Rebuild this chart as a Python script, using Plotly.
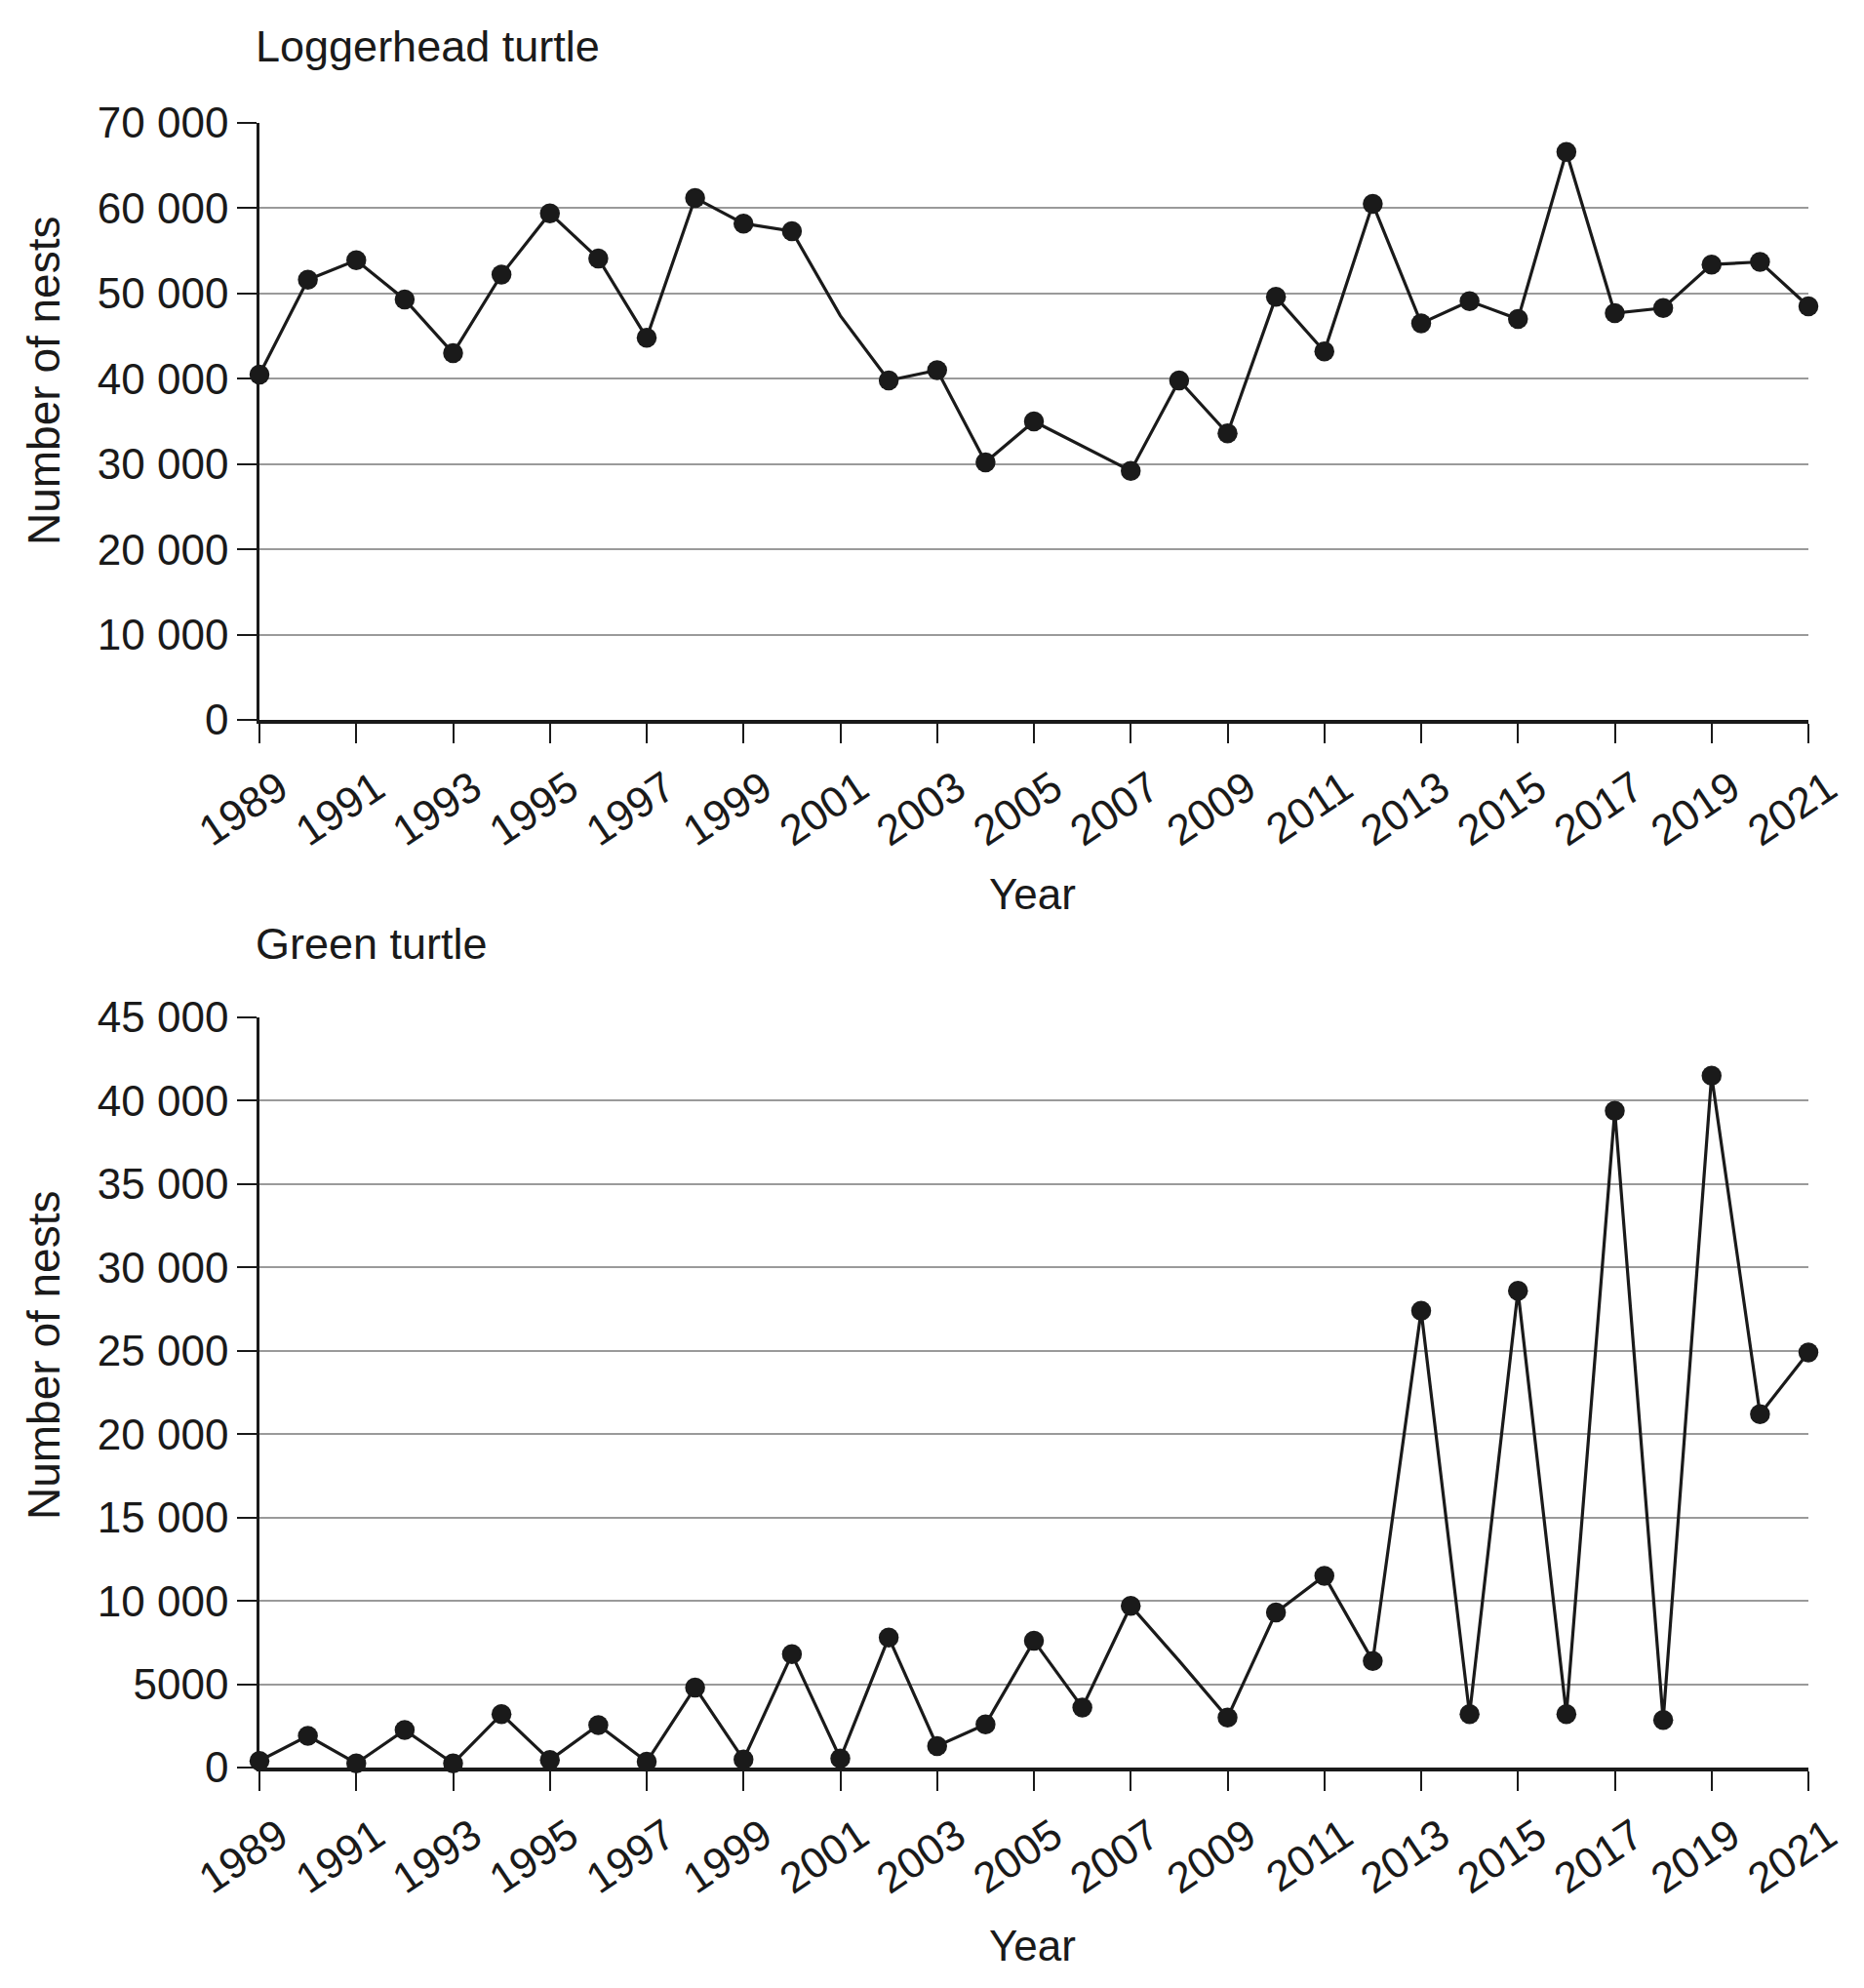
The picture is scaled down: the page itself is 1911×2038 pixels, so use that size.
import plotly.graph_objects as go

years = list(range(1989, 2022))

loggerhead_nests = [40500, 51600, 53900, 49300, 43000, 52200, 59400, 54100, 44800, 61200,
                    58200, 57300, 47400, 39800, 41000, 30200, 35000, 32100, 29200, 39800,
                    33600, 49600, 43200, 60500, 46500, 49100, 47000, 66600, 47700, 48300,
                    53400, 53700, 48500]
# years drawn without a marker in the source
loggerhead_no_marker = [2001, 2006]

green_nests = [400, 1900, 250, 2250, 250, 3200, 450, 2550, 350, 4800,
               480, 6800, 540, 7800, 1290, 2590, 7600, 3600, 9700, 6400,
               3000, 9300, 11500, 6400, 27400, 3200, 28600, 3200, 39400, 2850,
               41500, 21200, 24900]
green_no_marker = [2008]

x_tickvals = list(range(1989, 2022, 2))
x_ticktext = [str(v) for v in x_tickvals]

top_tickvals = [0, 10000, 20000, 30000, 40000, 50000, 60000, 70000]
top_ticktext = ["0", "10 000", "20 000", "30 000", "40 000", "50 000", "60 000", "70 000"]
bot_tickvals = [0, 5000, 10000, 15000, 20000, 25000, 30000, 35000, 40000, 45000]
bot_ticktext = ["0", "5000", "10 000", "15 000", "20 000", "25 000", "30 000", "35 000", "40 000", "45 000"]

titles = ["Loggerhead turtle", "Green turtle"]
x_title = "Year"
y_title = "Number of nests"

W, H = 1911, 2038
L, R, T, B = 266, 57, 126, 226
PW, PH = W - L - R, H - T - B

def px_x(p):
    return (p - L) / PW

def px_y(p):
    return (H - B - p) / PH

FONT = "Liberation Sans, Arial, Helvetica, sans-serif"
INK = "#1a1a1a"
GRID = "#9a9a9a"

fig = go.Figure()

def add_series(xs, ys, skip, xa, ya):
    fig.add_trace(go.Scatter(x=xs, y=ys, mode="lines", line=dict(color=INK, width=3.2),
                             xaxis=xa, yaxis=ya, showlegend=False, cliponaxis=False,
                             hoverinfo="skip"))
    mx = [x for x in xs if x not in skip]
    my = [y for x, y in zip(xs, ys) if x not in skip]
    fig.add_trace(go.Scatter(x=mx, y=my, mode="markers",
                             marker=dict(color=INK, size=20.5, symbol="circle", line=dict(width=0)),
                             xaxis=xa, yaxis=ya, showlegend=False, cliponaxis=False))

add_series(years, loggerhead_nests, loggerhead_no_marker, "x", "y")
add_series(years, green_nests, green_no_marker, "x2", "y2")

top_dom = [px_y(738), 1.0]
bot_dom = [0.0, px_y(1043)]

xcommon = dict(range=[1989, 2021], tickmode="array", tickvals=x_tickvals, ticktext=x_ticktext,
               tickangle=-34, ticks="outside", ticklen=20, tickwidth=2, tickcolor=INK,
               showline=True, linecolor=INK, linewidth=4, showgrid=False, zeroline=False,
               tickfont=dict(family=FONT, size=44, color=INK), domain=[0, 1],
               ticklabelshift=20, ticklabelstandoff=3)
ycommon = dict(ticks="outside", ticklen=20, tickwidth=2, tickcolor=INK,
               showline=True, linecolor=INK, linewidth=2.5, showgrid=True, gridcolor=GRID,
               gridwidth=2, zeroline=False, tickfont=dict(family=FONT, size=44, color=INK),
               tickmode="array", ticklabelstandoff=0)

fig.update_layout(
    width=W, height=H,
    margin=dict(l=L, r=R, t=T, b=B, pad=0),
    paper_bgcolor="white", plot_bgcolor="white",
    xaxis=dict(anchor="y", **xcommon),
    yaxis=dict(domain=top_dom, anchor="x", range=[0, 70000], tickvals=top_tickvals,
               ticktext=top_ticktext, **ycommon),
    xaxis2=dict(anchor="y2", **xcommon),
    yaxis2=dict(domain=bot_dom, anchor="x2", range=[0, 45000], tickvals=bot_tickvals,
                ticktext=bot_ticktext, **ycommon),
)

ann = []
for txt, cy in zip(titles, [47.5, 967.5]):
    ann.append(dict(text=txt, x=px_x(260), y=px_y(cy), xref="paper", yref="paper",
                    xanchor="left", yanchor="middle", showarrow=False,
                    font=dict(family=FONT, size=45, color=INK)))
for cy in [916.5, 1995]:
    ann.append(dict(text=x_title, x=px_x(1058), y=px_y(cy), xref="paper", yref="paper",
                    xanchor="center", yanchor="middle", showarrow=False,
                    font=dict(family=FONT, size=44, color=INK)))
for cy in [391, 1390]:
    ann.append(dict(text=y_title, x=px_x(45), y=px_y(cy), xref="paper", yref="paper",
                    xanchor="center", yanchor="middle", showarrow=False, textangle=-90,
                    font=dict(family=FONT, size=46, color=INK)))
fig.update_layout(annotations=ann)

fig.write_html("out.html")
